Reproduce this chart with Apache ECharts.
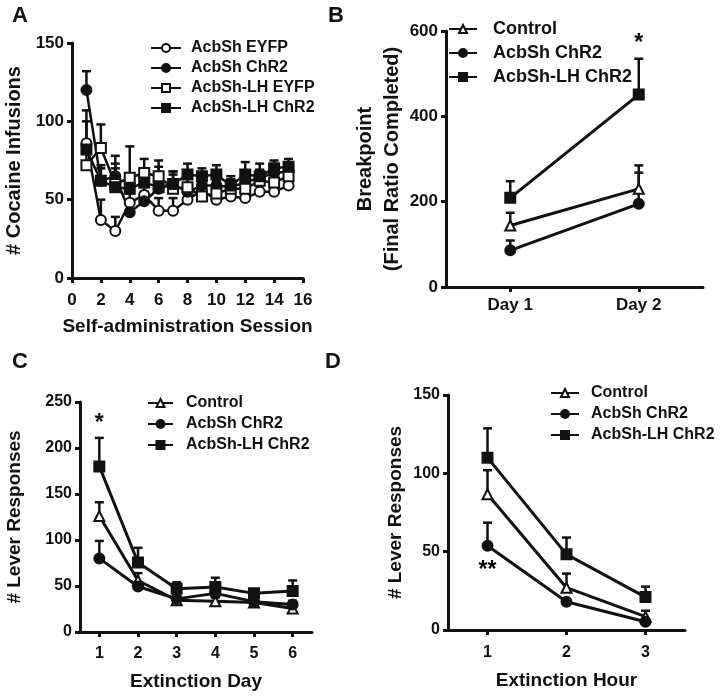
<!DOCTYPE html>
<html>
<head>
<meta charset="utf-8">
<script src="https://cdn.jsdelivr.net/npm/echarts@6/dist/echarts.min.js"></script>
<style>
  html, body { margin: 0; padding: 0; background: #fff; }
  #chart { width: 720px; height: 696px; }
</style>
</head>
<body>
<div id="chart"></div>
<script>
// ---- data ----
// A: cocaine infusions per self-administration session
const sessions = [1, 2, 3, 4, 5, 6, 7, 8, 9, 10, 11, 12, 13, 14, 15];
const aEyfp = [86, 37, 30, 48, 53, 43, 43, 50, 56, 50, 52, 51, 55, 55, 59];
const aEyfpErr = [14, 13, 9, 6, 5, 8, 8, 5, 5, 5, 4, 5, 4, 4, 4];
const aChr2 = [120, 62, 65, 42, 49, 57, 60, 55, 59, 59, 58, 61, 64, 67, 68];
const aChr2Err = [12, 8, 8, 6, 6, 7, 6, 5, 5, 5, 5, 5, 5, 5, 5];
const aLhEyfp = [72, 83, 60, 64, 67, 65, 57, 58, 52, 54, 57, 57, 62, 61, 65];
const aLhEyfpErr = [8, 15, 10, 20, 9, 10, 11, 8, 8, 8, 6, 7, 7, 7, 7];
const aLhChr2 = [82, 62, 58, 57, 61, 58, 60, 66, 65, 66, 59, 66, 65, 70, 71];
const aLhChr2Err = [25, 10, 20, 8, 8, 13, 8, 7, 5, 6, 6, 8, 8, 5, 5];

// B: breakpoint
const days = ['Day 1', 'Day 2'];
const bControl = [144, 230];
const bControlErr = [30, 55];
const bAcbSh = [86, 195];
const bAcbShErr = [23, 73];
const bLh = [209, 451];
const bLhErr = [39, 84];

// C: lever responses per extinction day
const extDays = ['1', '2', '3', '4', '5', '6'];
const cControl = [126, 56, 34.5, 33.5, 32, 25.6];
const cControlErr = [15, 8, 3, 4, 3, 3];
const cAcbSh = [80, 49.5, 36, 42, 33, 30];
const cAcbShErr = [19, 4, 3, 5, 3, 4];
const cLh = [180, 75.5, 47, 49, 42, 44.5];
const cLhErr = [31, 16, 7, 10, 4, 11.5];

// D: lever responses per extinction hour
const extHours = ['1', '2', '3'];
const dControl = [86.6, 27, 8.5];
const dControlErr = [15.4, 9, 3.8];
const dAcbSh = [53.8, 18, 5.3];
const dAcbShErr = [14.7, 2, 1.5];
const dLh = [110, 48.3, 21];
const dLhErr = [18.7, 10.7, 6.7];

const FONT = '"Liberation Sans", Arial, sans-serif';
const INK = '#111';

const myChart = echarts.init(document.getElementById('chart'));

// 误差线 (只画向上的一半)
function errRender(params, api) {
  const p0 = api.coord([api.value(0), api.value(1)]);
  const p1 = api.coord([api.value(0), api.value(2)]);
  const st = { stroke: INK, lineWidth: 2.5 };
  return {
    type: 'group',
    children: [
      { type: 'line', shape: { x1: p0[0], y1: p0[1], x2: p1[0], y2: p1[1] }, style: st },
      { type: 'line', shape: { x1: p1[0] - 4.5, y1: p1[1], x2: p1[0] + 4.5, y2: p1[1] }, style: st }
    ]
  };
}

const series = [];
function addGroup(gi, name, symbol, xs, ys, errs, lw) {
  series.push({
    name: name,
    type: 'line',
    xAxisIndex: gi, yAxisIndex: gi,
    data: ys.map((v, i) => [xs[i], v]),
    symbol: symbol,
    symbolSize: 10,
    z: 3,
    lineStyle: { color: INK, width: lw || 3 },
    itemStyle: { color: INK, borderColor: INK, borderWidth: 2 },
    emphasis: { disabled: true },
    animation: false
  });
  series.push({
    type: 'custom',
    xAxisIndex: gi, yAxisIndex: gi,
    renderItem: errRender,
    data: ys.map((v, i) => [xs[i], v, v + errs[i]]),
    z: 2,
    silent: true,
    animation: false
  });
}
function addStar(gi, text, x, y) {
  series.push({
    type: 'scatter',
    xAxisIndex: gi, yAxisIndex: gi,
    symbolSize: 1,
    itemStyle: { color: 'transparent', opacity: 1 },
    data: [[x, y]],
    label: { show: true, position: 'inside', formatter: text, color: '#000', fontSize: 23, fontWeight: 'bold', fontFamily: FONT },
    silent: true,
    animation: false
  });
}

const idx = (arr) => arr.map((_, i) => i);

addGroup(0, 'AcbSh EYFP', 'emptyCircle', sessions, aEyfp, aEyfpErr, 2.5);
addGroup(0, 'AcbSh ChR2', 'circle', sessions, aChr2, aChr2Err, 2.5);
addGroup(0, 'AcbSh-LH EYFP', 'emptyRect', sessions, aLhEyfp, aLhEyfpErr, 2.5);
addGroup(0, 'AcbSh-LH ChR2', 'rect', sessions, aLhChr2, aLhChr2Err, 2.5);

addGroup(1, 'Control', 'emptyTriangle', idx(days), bControl, bControlErr);
addGroup(1, 'AcbSh ChR2 ', 'circle', idx(days), bAcbSh, bAcbShErr);
addGroup(1, 'AcbSh-LH ChR2', 'rect', idx(days), bLh, bLhErr);
addStar(1, '*', 1, 570);

addGroup(2, 'Control', 'emptyTriangle', idx(extDays), cControl, cControlErr);
addGroup(2, 'AcbSh ChR2 ', 'circle', idx(extDays), cAcbSh, cAcbShErr);
addGroup(2, 'AcbSh-LH ChR2', 'rect', idx(extDays), cLh, cLhErr);
addStar(2, '*', 0, 226);

addGroup(3, 'Control', 'emptyTriangle', idx(extHours), dControl, dControlErr);
addGroup(3, 'AcbSh ChR2 ', 'circle', idx(extHours), dAcbSh, dAcbShErr);
addGroup(3, 'AcbSh-LH ChR2', 'rect', idx(extHours), dLh, dLhErr);
addStar(3, '**', 0, 38);

const axisLine = { show: true, lineStyle: { color: INK, width: 3 } };
const axisTick = { show: true, length: 5, lineStyle: { color: INK, width: 3 } };
function lab(size, margin) {
  return { color: INK, fontSize: size, fontWeight: 'bold', fontFamily: FONT, margin: margin };
}
function nameStyle(size) {
  return { color: INK, fontSize: size, fontWeight: 'bold', fontFamily: FONT, lineHeight: 27 };
}
function yAx(gi, max, interval, name, gap, size, nsize) {
  return {
    gridIndex: gi, type: 'value', min: 0, max: max, interval: interval,
    axisLine: axisLine, axisTick: axisTick, splitLine: { show: false },
    axisLabel: lab(size, 8),
    name: name, nameLocation: 'middle', nameRotate: 90, nameGap: gap,
    nameTextStyle: nameStyle(nsize)
  };
}
function catAx(gi, data, name, gap, margin, size) {
  return {
    gridIndex: gi, type: 'category', data: data, boundaryGap: true,
    axisLine: axisLine, axisTick: Object.assign({ alignWithLabel: true }, axisTick),
    axisLabel: lab(size, margin),
    name: name, nameLocation: 'middle', nameGap: gap,
    nameTextStyle: nameStyle(19)
  };
}
function legend(names, left, top, itemWidth, size, lh, gap, textPad) {
  return {
    data: names, orient: 'vertical', left: left, top: top, padding: 0,
    itemWidth: itemWidth, itemHeight: 10, itemGap: gap,
    selectedMode: false,
    textStyle: { color: INK, fontSize: size, lineHeight: lh, fontWeight: 'bold', fontFamily: FONT, padding: [0, 0, 0, textPad] }
  };
}

const letter = (t, x, y) => ({
  type: 'text', left: x, top: y,
  style: { text: t, fill: INK, font: 'bold 22px ' + FONT }
});

myChart.setOption({
  backgroundColor: '#fff',
  animation: false,
  grid: [
    { left: 69, top: 43, width: 234, height: 235 },
    { left: 446, top: 31, width: 257, height: 256 },
    { left: 77, top: 402, width: 235, height: 234 },
    { left: 448, top: 395, width: 237, height: 235 }
  ],
  xAxis: [
    {
      gridIndex: 0, type: 'value', min: 0, max: 16, interval: 2,
      axisLine: axisLine, axisTick: axisTick, splitLine: { show: false },
      axisLabel: lab(17, 14),
      name: 'Self-administration Session', nameLocation: 'middle', nameGap: 35,
      nameTextStyle: nameStyle(19)
    },
    catAx(1, days, '', 30, 10, 17),
    catAx(2, extDays, 'Extinction Day', 36, 14, 16),
    catAx(3, extHours, 'Extinction Hour', 37, 15, 16)
  ],
  yAxis: [
    yAx(0, 150, 50, '# Cocaine Infusions', 44, 17, 20),
    yAx(1, 600, 200, 'Breakpoint\n(Final Ratio Completed)', 36, 17, 20),
    yAx(2, 250, 50, '# Lever Responses', 52, 16, 19),
    yAx(3, 150, 50, '# Lever Responses', 39, 16, 19)
  ],
  legend: [
    legend(['AcbSh EYFP', 'AcbSh ChR2', 'AcbSh-LH EYFP', 'AcbSh-LH ChR2'], 150, 40, 30, 16, 16, 4, 5),
    legend(['Control', 'AcbSh ChR2 ', 'AcbSh-LH ChR2'], 448, 20, 28, 18, 18, 6, 11),
    legend(['Control', 'AcbSh ChR2 ', 'AcbSh-LH ChR2'], 147, 395, 25, 16, 16, 5, 8),
    legend(['Control', 'AcbSh ChR2 ', 'AcbSh-LH ChR2'], 550, 385, 28, 16, 16, 5, 7)
  ],
  graphic: [
    letter('A', 12, 5),
    letter('B', 328, 5),
    letter('C', 12, 351),
    letter('D', 325, 351)
  ],
  series: series
});
</script>
</body>
</html>
